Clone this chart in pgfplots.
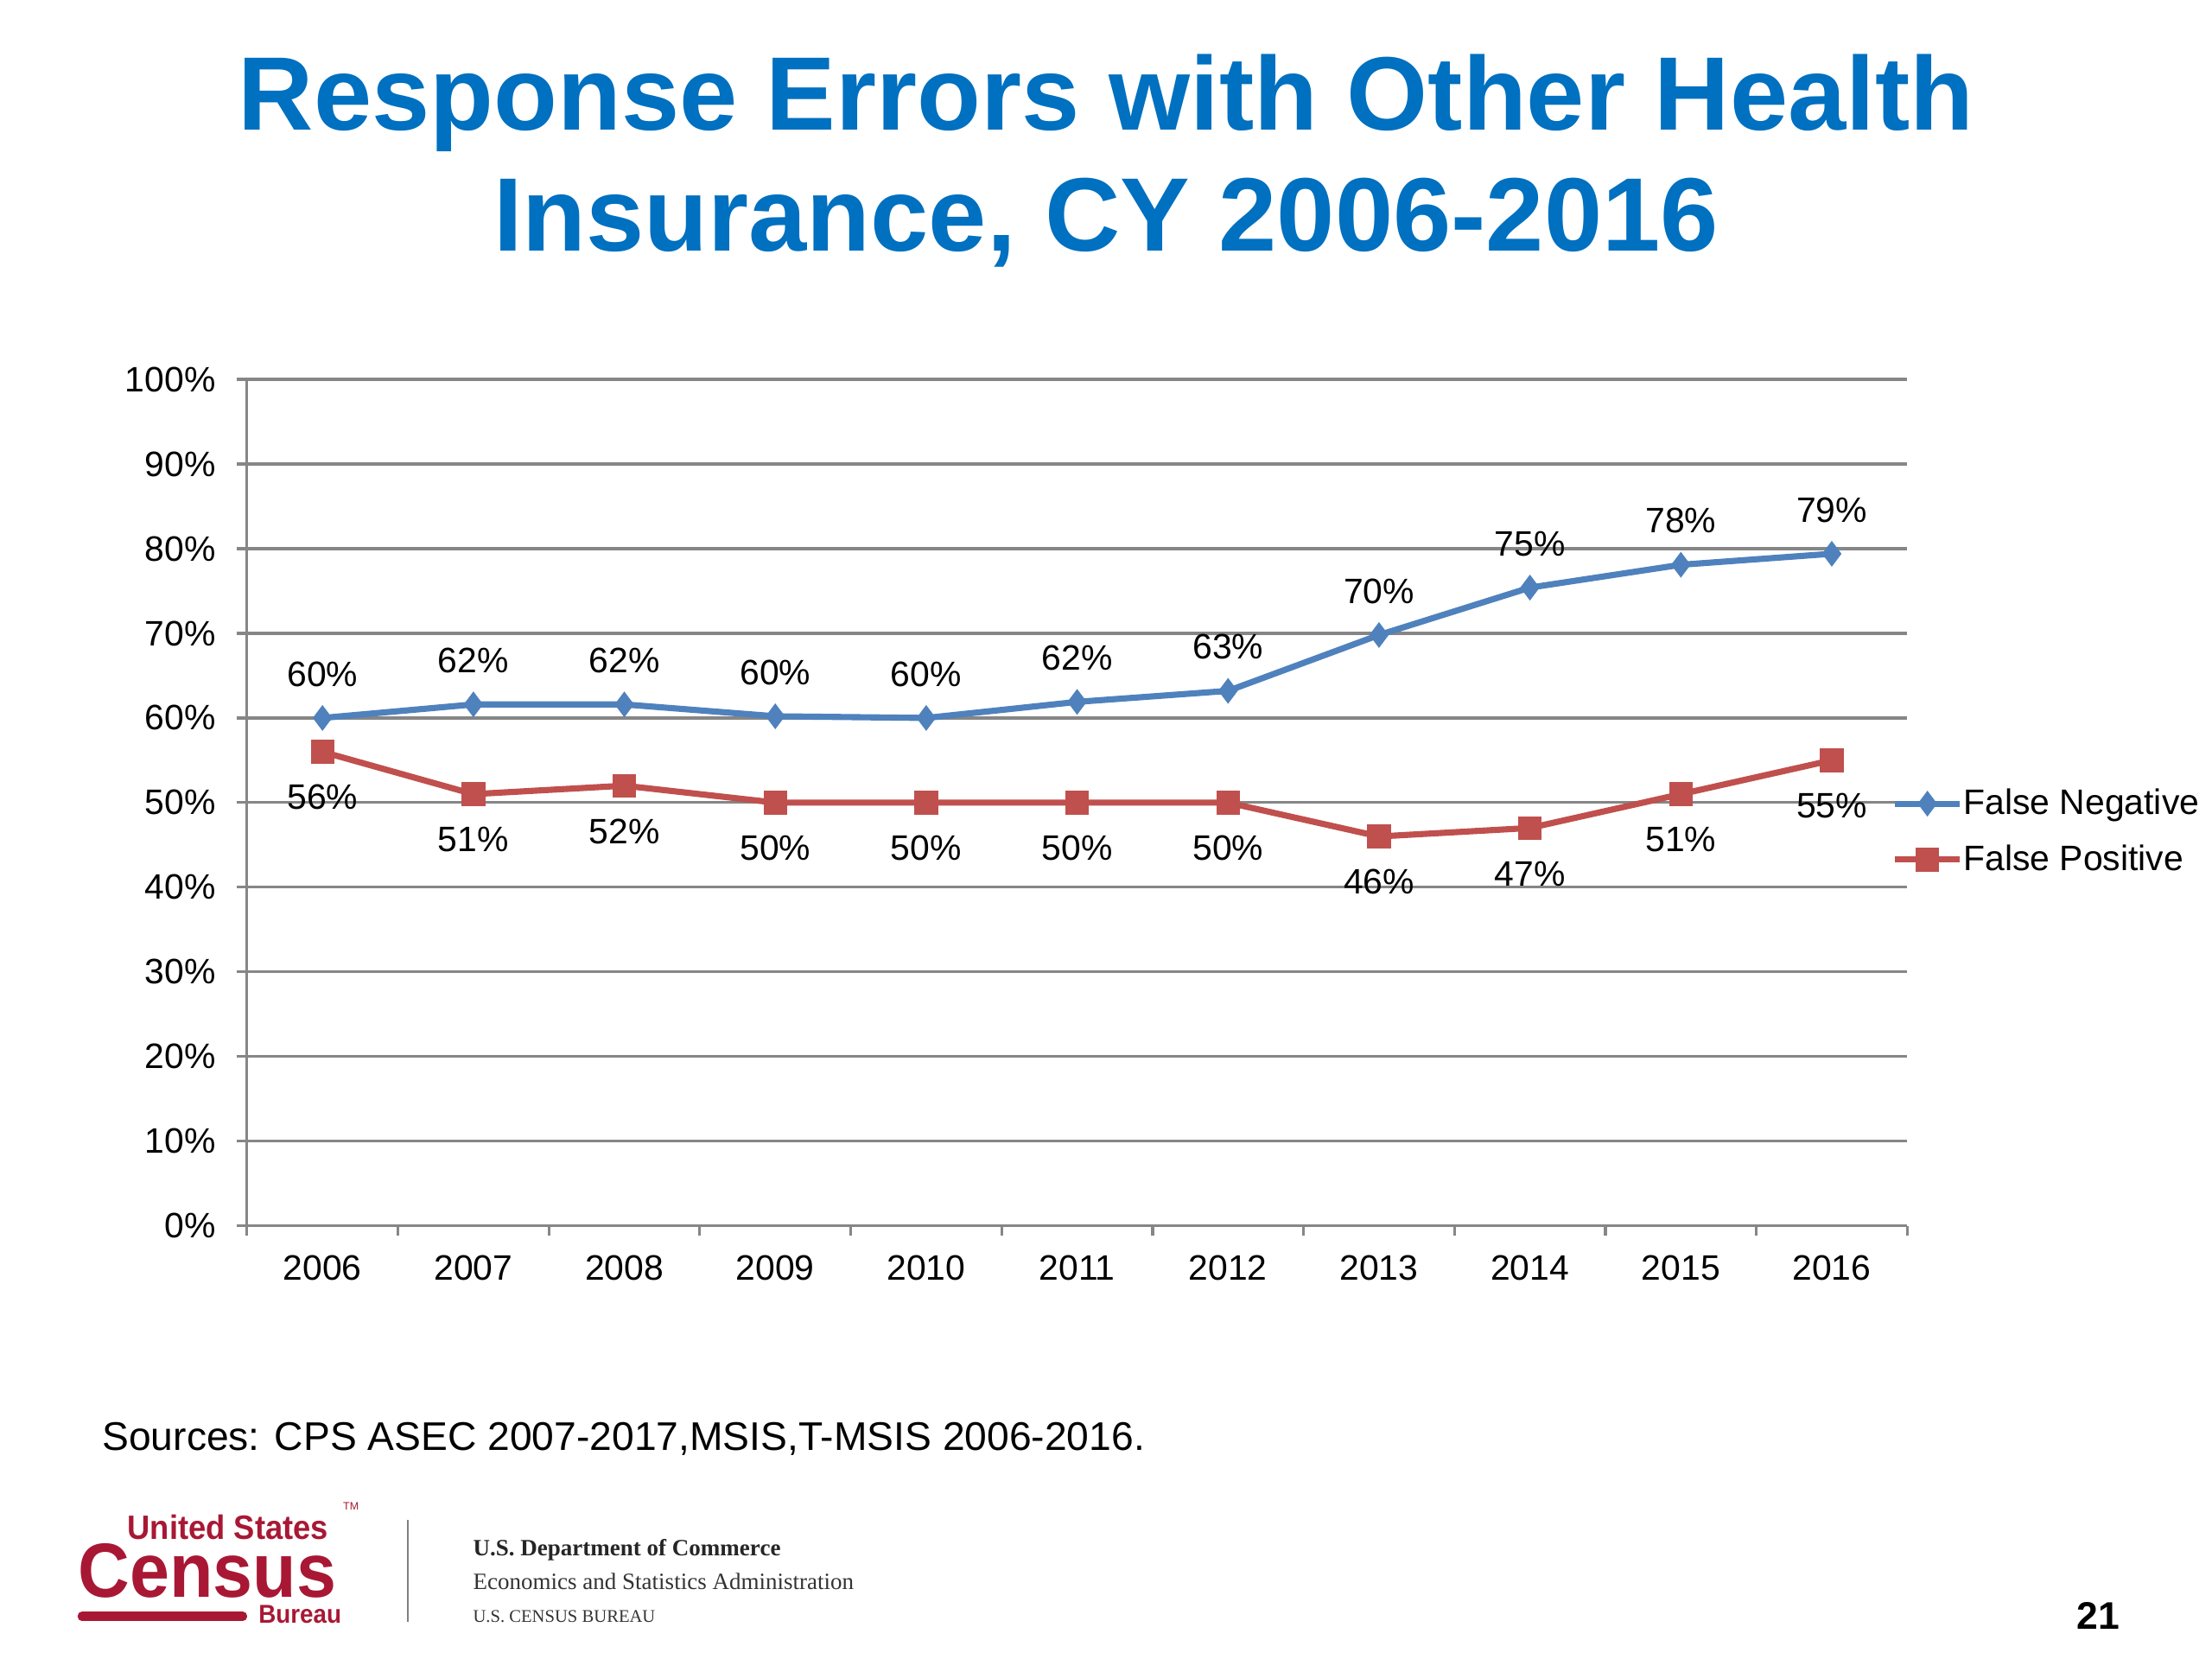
\documentclass[border=0pt]{standalone}
\usepackage{fontspec}
\setmainfont{Liberation Sans}
\newfontfamily\seriffont{Liberation Serif}
\newfontfamily\censusfont{Liberation Sans}[FakeStretch=0.93]
\usepackage{pgfplots}
\usepackage{pgfplotstable}
\pgfplotsset{compat=1.18}
\definecolor{titleblue}{RGB}{0,112,192}
\definecolor{fnblue}{RGB}{79,129,189}
\definecolor{fpred}{RGB}{192,80,77}
\definecolor{gridgray}{RGB}{134,134,134}
\definecolor{censusred}{RGB}{168,24,52}
\pgfplotstableread{
x fn fnl fp fpl
0 60.0 60 56.0 56
1 61.6 62 51.0 51
2 61.6 62 52.0 52
3 60.2 60 50.0 50
4 60.0 60 50.0 50
5 61.9 62 50.0 50
6 63.2 63 50.0 50
7 69.8 70 46.0 46
8 75.4 75 47.0 47
9 78.1 78 51.0 51
10 79.4 79 55.0 55
}\datatable
\newcommand{\chartfont}{\fontsize{11.5}{13.8}\selectfont}
\begin{document}
\begin{tikzpicture}
\path[use as bounding box] (0,0) rectangle (720pt,540pt);
% title
\node[anchor=base, text=titleblue, font=\bfseries\fontsize{34}{40}\selectfont, inner sep=0] at (360pt,497.8pt) {Response Errors with Other Health};
\node[anchor=base, text=titleblue, font=\bfseries\fontsize{34}{40}\selectfont, inner sep=0] at (360pt,458.3pt) {Insurance, CY 2006-2016};
\begin{axis}[
  at={(80.4pt,141pt)}, anchor=south west,
  scale only axis, width=540.4pt, height=275.5pt,
  xmin=-0.5, xmax=10.5, ymin=0, ymax=100,
  axis x line*=bottom, axis y line*=left,
  axis line style={draw=gridgray, line width=0.9pt, -},
  xtick={0,...,10},
  xticklabels={2006,2007,2008,2009,2010,2011,2012,2013,2014,2015,2016},
  major x tick style={draw=none},
  minor xtick={-0.5,0.5,...,10.5},
  minor x tick style={draw=gridgray, line width=0.9pt},
  minor tick length=3.2pt,
  major tick length=3.2pt,
  tick align=outside,
  ytick={0,10,...,100},
  yticklabels={0\%,10\%,20\%,30\%,40\%,50\%,60\%,70\%,80\%,90\%,100\%},
  y tick style={draw=gridgray, line width=0.9pt},
  ymajorgrids,
  major grid style={draw=gridgray, line width=0.9pt},
  ticklabel style={font=\chartfont, text=black},
  yticklabel style={xshift=-3.5pt},
  xticklabel style={yshift=-3pt},
  clip=false,
  legend style={draw=none, fill=none, at={(0.9905,0.4657)}, anchor=west,
    inner sep=0pt, row sep=7.8pt, font=\chartfont, nodes={inner sep=0.3pt}},
  legend cell align=left,
  legend image code/.code={\draw[#1, mark repeat=2, mark phase=2] plot coordinates {(0pt,0pt) (10.5pt,0pt) (21pt,0pt)};},
  every node near coord/.append style={font=\chartfont, text=black, anchor=base, inner sep=0pt},
]
\addplot[color=fnblue, line width=2pt, mark=diamond*, mark size=3.8pt,
  mark options={solid, line width=0.5pt, fill=fnblue},
  point meta=explicit symbolic, nodes near coords={\pgfplotspointmeta\%},
  every node near coord/.append style={yshift=10.3pt}]
  table[x=x, y=fn, meta=fnl] {\datatable};
\addlegendentry{False Negative}
\addplot[color=fpred, line width=2pt, mark=square*, mark size=3.6pt,
  mark options={solid, line width=0.5pt, fill=fpred},
  point meta=explicit symbolic, nodes near coords={\pgfplotspointmeta\%},
  every node near coord/.append style={yshift=-18.8pt}]
  table[x=x, y=fp, meta=fpl] {\datatable};
\addlegendentry{False Positive}
\end{axis}
% sources
\node[anchor=base west, font=\fontsize{13}{15}\selectfont, inner sep=0] at (33.1pt,68pt) {Sources: CPS ASEC 2007-2017,MSIS,T-MSIS 2006-2016.};
% logo
\node[anchor=base west, text=censusred, font=\censusfont\bfseries\fontsize{11}{12}\selectfont, inner sep=0] at (41.3pt,39pt) {United States};
\node[anchor=base west, text=censusred, font=\fontsize{3.5}{4}\selectfont, inner sep=0] at (111.5pt,48.5pt) {TM};
\node[anchor=base west, text=censusred, font=\censusfont\bfseries\fontsize{25}{28}\selectfont, inner sep=0] at (25.3pt,20pt) {Census};
\fill[censusred, rounded corners=1.3pt] (25.3pt,12.4pt) rectangle (80.4pt,15.4pt);
\node[anchor=base west, text=censusred, font=\censusfont\bfseries\fontsize{8.4}{9}\selectfont, inner sep=0] at (84pt,11.8pt) {Bureau};
\draw[gray, line width=0.6pt] (132.7pt,12pt) -- (132.7pt,45.4pt);
\node[anchor=base west, font=\seriffont\bfseries\fontsize{7.6}{9}\selectfont, text=black!85, inner sep=0] at (153.8pt,33.5pt) {U.S. Department of Commerce};
\node[anchor=base west, font=\seriffont\fontsize{7.6}{9}\selectfont, text=black!80, inner sep=0] at (153.8pt,22.5pt) {Economics and Statistics Administration};
\node[anchor=base west, font=\seriffont\fontsize{5.8}{7}\selectfont, text=black!80, inner sep=0] at (153.8pt,12pt) {U.S. CENSUS BUREAU};
% page number
\node[anchor=base east, font=\bfseries\fontsize{12.5}{14}\selectfont, inner sep=0] at (690.2pt,9.6pt) {21};
\end{tikzpicture}
\end{document}
